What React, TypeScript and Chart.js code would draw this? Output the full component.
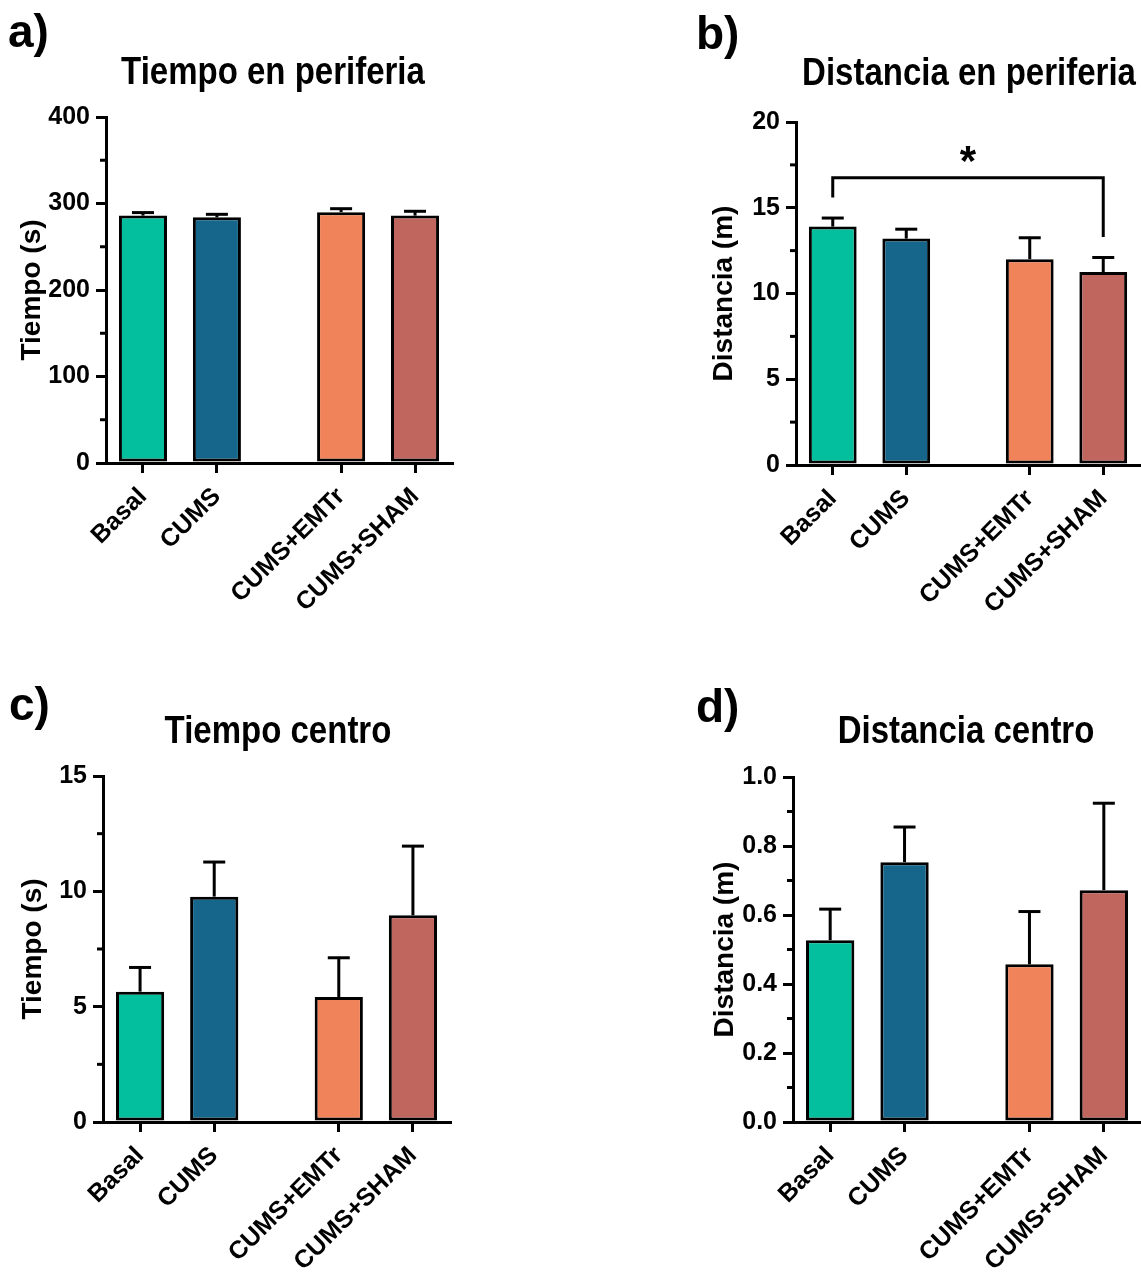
import React, { useEffect, useRef } from 'react';
import { Chart, registerables } from 'chart.js';

Chart.register(...registerables);

// ---------- DATA ----------
const CATEGORIES = ['Basal', 'CUMS', 'CUMS+EMTr', 'CUMS+SHAM'];
const GROUP_INDEX = [0, 0, 1, 1];
const GROUP_GAP = 0.68;
const BAR_COLORS = ['#03BF9E', '#16668B', '#F1835A', '#C0665E'];

const TIEMPO_PERIFERIA = [286, 284, 290, 286];
const TIEMPO_PERIFERIA_SEM = [3.5, 3.5, 4, 5];

const DISTANCIA_PERIFERIA = [13.9, 13.2, 12.0, 11.25];
const DISTANCIA_PERIFERIA_SEM = [0.5, 0.55, 1.25, 0.85];

const TIEMPO_CENTRO = [5.65, 9.77, 5.42, 8.96];
const TIEMPO_CENTRO_SEM = [1.05, 1.5, 1.7, 3.0];

const DISTANCIA_CENTRO = [0.527, 0.753, 0.457, 0.672];
const DISTANCIA_CENTRO_SEM = [0.09, 0.102, 0.153, 0.252];

// significance bracket (panel b): Basal vs CUMS+SHAM
const BRACKET_B = { from: 0, to: 3, level: 16.75, leftEnd: 15.6, rightEnd: 13.3, label: '*' };

const POSITIONS = CATEGORIES.map((_, i) => i + GROUP_INDEX[i] * GROUP_GAP);

const FONT = '"Liberation Sans", Arial, Helvetica, sans-serif';

type Bracket = { from: number; to: number; level: number; leftEnd: number; rightEnd: number; label: string };

type PanelCfg = {
  key: string;
  letter: string;
  title: string;
  yTitle: string;
  values: number[];
  errors: number[];
  yMax: number;
  yStep: number;
  yMinor: number;
  decimals: number;
  canvas: { left: number; top: number; w: number; h: number };
  area: { left: number; right: number; top: number; bottom: number };
  yTitleCenter: number;
  titleCenterX: number;
  titleBaseline: number;
  letterX: number;
  letterBaseline: number;
  bracket?: Bracket;
};

const PANELS: PanelCfg[] = [
  {
    key: 'a', letter: 'a)', title: 'Tiempo en periferia', yTitle: 'Tiempo (s)',
    values: TIEMPO_PERIFERIA, errors: TIEMPO_PERIFERIA_SEM,
    yMax: 400, yStep: 100, yMinor: 50, decimals: 0,
    canvas: { left: 0, top: 0, w: 470, h: 640 },
    area: { left: 106, right: 452, top: 117, bottom: 463 },
    yTitleCenter: 32, titleCenterX: 273, titleBaseline: 84, letterX: 8, letterBaseline: 47,
  },
  {
    key: 'b', letter: 'b)', title: 'Distancia en periferia', yTitle: 'Distancia (m)',
    values: DISTANCIA_PERIFERIA, errors: DISTANCIA_PERIFERIA_SEM,
    yMax: 20, yStep: 5, yMinor: 2.5, decimals: 0,
    canvas: { left: 690, top: 0, w: 451, h: 640 },
    area: { left: 106, right: 450, top: 122, bottom: 465 },
    yTitleCenter: 34, titleCenterX: 279, titleBaseline: 85, letterX: 6, letterBaseline: 49,
    bracket: BRACKET_B,
  },
  {
    key: 'c', letter: 'c)', title: 'Tiempo centro', yTitle: 'Tiempo (s)',
    values: TIEMPO_CENTRO, errors: TIEMPO_CENTRO_SEM,
    yMax: 15, yStep: 5, yMinor: 2.5, decimals: 0,
    canvas: { left: 0, top: 640, w: 470, h: 632 },
    area: { left: 103, right: 450, top: 136, bottom: 482 },
    yTitleCenter: 33, titleCenterX: 278, titleBaseline: 103, letterX: 9, letterBaseline: 80,
  },
  {
    key: 'd', letter: 'd)', title: 'Distancia centro', yTitle: 'Distancia (m)',
    values: DISTANCIA_CENTRO, errors: DISTANCIA_CENTRO_SEM,
    yMax: 1.0, yStep: 0.2, yMinor: 0.1, decimals: 1,
    canvas: { left: 690, top: 640, w: 451, h: 632 },
    area: { left: 103, right: 451, top: 137, bottom: 482 },
    yTitleCenter: 35, titleCenterX: 276, titleBaseline: 103, letterX: 6, letterBaseline: 82,
  },
];

const X_SCALE_HEIGHT = 160;
const Y_TITLE_SIZE = 28;
const TICK_SIZE = 25;
const XLABEL_SIZE = 25;

function ChartPanel({ cfg }: { cfg: PanelCfg }) {
  const ref = useRef<HTMLCanvasElement | null>(null);

  useEffect(() => {
    const canvas = ref.current;
    if (!canvas) return;
    const { w, h } = cfg.canvas;
    const a = cfg.area;
    const padLeft = Math.round(cfg.yTitleCenter - (Y_TITLE_SIZE * 1.2) / 2);
    const yWidth = a.left - padLeft;

    const decor = {
      id: 'decor_' + cfg.key,
      afterDatasetsDraw(chart: any) {
        const ctx = chart.ctx;
        const yS = chart.scales.y;
        const meta = chart.getDatasetMeta(0);
        ctx.save();
        ctx.strokeStyle = '#000';
        ctx.lineWidth = 3;
        ctx.lineCap = 'butt';
        // error bars (upper only)
        meta.data.forEach((el: any, i: number) => {
          const top = yS.getPixelForValue(cfg.values[i] + cfg.errors[i]);
          ctx.beginPath();
          ctx.moveTo(el.x, el.y);
          ctx.lineTo(el.x, top);
          ctx.stroke();
          ctx.beginPath();
          ctx.moveTo(el.x - 11, top);
          ctx.lineTo(el.x + 11, top);
          ctx.stroke();
        });
        ctx.restore();
      },
      afterDraw(chart: any) {
        const ctx = chart.ctx;
        const yS = chart.scales.y;
        const xS = chart.scales.x;
        const ca = chart.chartArea;
        ctx.save();
        ctx.strokeStyle = '#000';
        ctx.lineWidth = 3;
        // minor ticks
        const n = Math.round(cfg.yMax / cfg.yMinor);
        for (let k = 1; k < n; k += 2) {
          const py = yS.getPixelForValue(k * cfg.yMinor);
          ctx.beginPath();
          ctx.moveTo(ca.left - 6, py);
          ctx.lineTo(ca.left, py);
          ctx.stroke();
        }
        // significance bracket
        const b = cfg.bracket;
        if (b) {
          const x0 = xS.getPixelForValue(POSITIONS[b.from]);
          const x1 = xS.getPixelForValue(POSITIONS[b.to]);
          const yl = yS.getPixelForValue(b.level);
          ctx.beginPath();
          ctx.moveTo(x0, yS.getPixelForValue(b.leftEnd));
          ctx.lineTo(x0, yl);
          ctx.lineTo(x1, yl);
          ctx.lineTo(x1, yS.getPixelForValue(b.rightEnd));
          ctx.stroke();
          ctx.fillStyle = '#000';
          ctx.font = `bold 42px ${FONT}`;
          ctx.textAlign = 'center';
          ctx.textBaseline = 'alphabetic';
          ctx.fillText(b.label, (x0 + x1) / 2, yl - 3);
        }
        ctx.restore();
      },
    };

    const chart = new Chart(canvas, {
      type: 'bar',
      data: {
        datasets: [
          {
            data: POSITIONS.map((x, i) => ({ x, y: cfg.values[i] })),
            backgroundColor: BAR_COLORS,
            borderColor: '#000',
            borderWidth: 3,
            borderSkipped: false,
            barPercentage: 0.65,
            categoryPercentage: 1,
          },
        ],
      },
      options: {
        responsive: false,
        animation: false,
        events: [],
        layout: {
          padding: {
            left: padLeft,
            right: w - a.right,
            top: a.top,
            bottom: h - a.bottom - X_SCALE_HEIGHT,
          },
        },
        plugins: {
          legend: { display: false },
          tooltip: { enabled: false },
          title: { display: false },
        },
        scales: {
          x: {
            type: 'linear',
            bounds: 'data',
            offset: false,
            min: POSITIONS[0] - 0.5,
            max: POSITIONS[POSITIONS.length - 1] + 0.5,
            afterBuildTicks: (s: any) => {
              s.ticks = POSITIONS.map((v) => ({ value: v }));
            },
            afterFit: (s: any) => {
              s.height = X_SCALE_HEIGHT;
            },
            grid: {
              display: true,
              offset: false,
              drawOnChartArea: false,
              drawTicks: true,
              tickLength: 10,
              tickWidth: 3,
              tickColor: '#000',
              lineWidth: 3,
              color: '#000',
            },
            border: { display: true, width: 3, color: '#000' },
            ticks: {
              autoSkip: false,
              maxRotation: 45,
              minRotation: 45,
              padding: 9,
              color: '#000',
              font: { family: FONT, size: XLABEL_SIZE, weight: 'bold' },
              callback: (_v: any, i: number) => CATEGORIES[i],
            },
          },
          y: {
            min: 0,
            max: cfg.yMax,
            afterFit: (s: any) => {
              s.width = yWidth;
            },
            grid: {
              display: true,
              drawOnChartArea: false,
              drawTicks: true,
              tickLength: 10,
              tickWidth: 3,
              tickColor: '#000',
              lineWidth: 3,
              color: '#000',
            },
            border: { display: true, width: 3, color: '#000' },
            ticks: {
              stepSize: cfg.yStep,
              padding: 6,
              color: '#000',
              font: { family: FONT, size: TICK_SIZE, weight: 'bold' },
              callback: (v: any) => Number(v).toFixed(cfg.decimals),
            },
            title: {
              display: true,
              text: cfg.yTitle,
              color: '#000',
              padding: { top: 0, bottom: 0 },
              font: { family: FONT, size: Y_TITLE_SIZE, weight: 'bold', lineHeight: 1.2 },
            },
          },
        },
      } as any,
      plugins: [decor],
    });
    return () => chart.destroy();
  }, [cfg]);

  return (
    <canvas
      ref={ref}
      width={cfg.canvas.w}
      height={cfg.canvas.h}
      style={{
        position: 'absolute',
        left: cfg.canvas.left,
        top: cfg.canvas.top,
        width: cfg.canvas.w,
        height: cfg.canvas.h,
      }}
    />
  );
}

const TITLE_SIZE = 33;
const LETTER_SIZE = 46;

export default function App() {
  return (
    <div
      style={{
        position: 'absolute',
        left: 0,
        top: 0,
        width: 1141,
        height: 1272,
        background: '#fff',
        overflow: 'hidden',
        fontFamily: FONT,
      }}
    >
      {PANELS.map((p) => (
        <ChartPanel key={p.key} cfg={p} />
      ))}
      {PANELS.map((p) => (
        <div
          key={'t' + p.key}
          style={{
            position: 'absolute',
            left: p.canvas.left + p.titleCenterX - 300,
            width: 600,
            top: p.canvas.top + p.titleBaseline - 0.8465 * TITLE_SIZE,
            fontSize: TITLE_SIZE,
            lineHeight: `${TITLE_SIZE}px`,
            fontWeight: 'bold',
            textAlign: 'center',
            color: '#000',
            whiteSpace: 'nowrap',
            transform: 'scaleY(1.15)',
            transformOrigin: `50% ${0.8465 * TITLE_SIZE}px`,
          }}
        >
          {p.title}
        </div>
      ))}
      {PANELS.map((p) => (
        <div
          key={'l' + p.key}
          style={{
            position: 'absolute',
            left: p.canvas.left + p.letterX,
            top: p.canvas.top + p.letterBaseline - 0.8465 * LETTER_SIZE,
            fontSize: LETTER_SIZE,
            lineHeight: `${LETTER_SIZE}px`,
            fontWeight: 'bold',
            color: '#000',
            whiteSpace: 'nowrap',
          }}
        >
          {p.letter}
        </div>
      ))}
    </div>
  );
}
